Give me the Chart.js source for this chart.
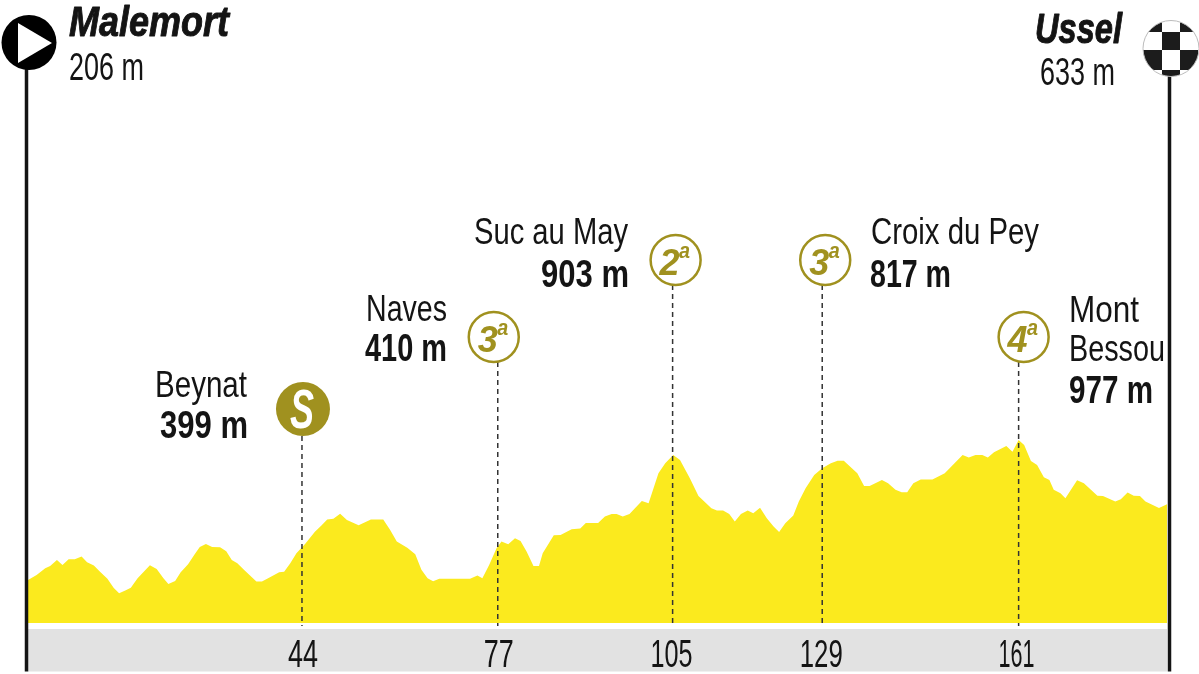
<!DOCTYPE html>
<html><head><meta charset="utf-8">
<style>html,body{margin:0;padding:0;background:#fff;overflow:hidden}canvas{display:block}</style>
<script src="https://cdn.jsdelivr.net/npm/chart.js@4"></script></head>
<body><canvas id="c" width="1199" height="674"></canvas>
<script>
const distanceKm = [0,1.4,2.8,3.6,4.7,5.6,6.6,7.6,8.7,9.6,10.7,11.7,12.9,13.9,14.8,15.8,16.7,17.8,18.8,19.8,20.9,22,22.8,23.9,24.8,26,27.1,27.9,28.9,29.9,31.2,32.2,33.1,34,35.2,37.1,38,39.3,40.8,41.6,42.6,43.6,45,46.6,47.7,48.6,49.6,50.7,51.8,53.7,55.7,57.7,58.8,59.9,
61.6,62.9,63.9,64.9,65.8,66.8,71.8,73,73.8,74.9,76.1,76.9,78,79.1,80,81,82.1,83,83.6,85.4,86.5,88.3,89.7,90.6,92.6,93.7,94.8,95.6,96.6,97.7,99.7,100.8,102.4,103.5,104.8,105.9,107.5,108.9,111,111.9,112.9,113.9,114.8,115.8,116.9,117.8,118.9,120,121.1,122,123,124.3,
125.2,126.3,127.7,129,130.4,131.5,132.5,134.7,135.8,136.7,138.7,139.7,140.9,141.9,142.8,143.8,145,146.9,148.9,151.8,152.8,153.9,155,155.9,156.9,158.9,159.9,160.9,161.8,162.9,163.9,165,165.9,166.6,167.7,168.5,170.4,171.5,173.7,174.6,176.6,177.5,178.6,179.6,180.6,181.5,183.7,185];
const elevationM = [206,234,271,284,317,289,321,321,336,304,286,252,212,163,132,147,163,215,252,287,267,215,184,200,249,293,350,389,406,389,387,365,317,299,258,197,197,221,249,252,299,354,406,474,509,541,545,574,539,509,541,541,484,419,
385,348,262,215,199,213,213,230,215,289,382,419,404,437,422,363,284,284,354,454,456,487,491,522,522,558,572,572,558,572,644,632,798,854,900,872,770,672,604,591,591,572,530,572,591,576,607,548,502,472,520,563,
641,715,789,826,854,868,868,798,728,728,761,743,706,693,693,743,763,763,798,900,885,900,900,885,915,950,918,983,955,866,844,776,761,706,687,659,759,743,674,672,641,654,691,674,672,641,606,626];
const tickLabels = ['44','77','105','129','161'];
const tickKm = [44.5,76.3,104.7,129,160.9];
const climbNames = [['Beynat'],['Naves'],['Suc au May'],['Croix du Pey'],['Mont','Bessou']];
const climbElevations = ['399 m','410 m','903 m','817 m','977 m'];
const climbBadges = ['S','3','2','3','4'];
const startName = 'Malemort', startElevation = '206 m';
const finishName = 'Ussel', finishElevation = '633 m';

const OLIVE='#a0911f', INK='#141414', YELLOW='#fbea1e', BAND='#e2e2e2';
const FONT='"Liberation Sans",sans-serif';
function txt(ctx,s,x,y,size,style,align,w,color,bold){
  ctx.font=style+' '+size+'px '+FONT; ctx.textAlign=align; ctx.textBaseline='alphabetic';
  ctx.fillStyle=color||INK; ctx.fillText(s,x,y,w);
  if(bold){ctx.strokeStyle=color||INK;ctx.lineWidth=bold;ctx.lineJoin='round';ctx.strokeText(s,x,y,w);}
}
const badgeLayout=[{y:409,r:27,dx:1},{y:337,r:25,dx:-4},{y:260,r:25,dx:3},{y:260,r:25,dx:3},{y:337,r:25,dx:5}];
const nameLayout=[
 {a:'right',x:247,lines:[[397,92]],ex:248,ey:438,ew:88},
 {a:'right',x:447,lines:[[321,81]],ex:447,ey:361,ew:82},
 {a:'right',x:628,lines:[[244,154]],ex:629,ey:287,ew:88},
 {a:'left', x:871,lines:[[244,168]],ex:870,ey:287,ew:81},
 {a:'left', x:1069,lines:[[322,70],[361,96]],ex:1069,ey:403,ew:84}];
const tickLayout=[{dx:1,w:30},{dx:1,w:30},{dx:-1,w:42},{dx:-1,w:43},{dx:-2,w:36}];

const deco={id:'deco',
 beforeDraw(ch){const c=ch.ctx;c.save();c.fillStyle=BAND;c.fillRect(ch.chartArea.left,629,ch.chartArea.width,42.5);c.restore();},
 afterDatasetsDraw(ch){
  const c=ch.ctx,xs=ch.scales.x;c.save();
  c.strokeStyle=INK;c.lineWidth=3.5;c.setLineDash([]);
  c.beginPath();c.moveTo(26.5,42);c.lineTo(26.5,671.5);c.moveTo(1169.5,48);c.lineTo(1169.5,671.5);c.stroke();
  c.fillStyle='#000';c.beginPath();c.arc(29,42.5,27.5,0,Math.PI*2);c.fill();
  c.fillStyle='#fff';c.beginPath();c.moveTo(18,23);c.lineTo(52,43);c.lineTo(18,63);c.closePath();c.fill();
  c.save();c.beginPath();c.arc(1171,48.5,28,0,Math.PI*2);c.clip();
  c.fillStyle='#fff';c.fillRect(1143,20,56,58);
  const cols=[1143,1162,1180,1198],rows=[20,32,50,70,78];
  c.fillStyle='#1c1c1c';
  for(let r=0;r<4;r++)for(let k=0;k<3;k++)if((r+k)%2===0)c.fillRect(cols[k],rows[r],cols[k+1]-cols[k],rows[r+1]-rows[r]);
  c.restore();
  c.strokeStyle='#bbb';c.lineWidth=1;c.beginPath();c.arc(1171,48.5,28,0,Math.PI*2);c.stroke();
  climbBadges.forEach((b,i)=>{
   const x=xs.getPixelForValue(tickKm[i]),L=badgeLayout[i],cx=x+L.dx;
   c.strokeStyle='#333';c.lineWidth=1.5;c.setLineDash([5,4]);
   c.beginPath();c.moveTo(x,L.y+L.r);c.lineTo(x,626);c.stroke();c.setLineDash([]);
   c.beginPath();c.arc(cx,L.y,L.r,0,Math.PI*2);
   if(b==='S'){c.fillStyle=OLIVE;c.fill();txt(c,'S',cx-1,L.y+19,56,'italic bold','center',24,'#fff');}
   else{c.strokeStyle=OLIVE;c.lineWidth=2.5;c.stroke();
    txt(c,b,cx-6,L.y+15,36,'italic bold','center',21,OLIVE);
    txt(c,'a',cx+9,L.y-2,22,'italic bold','center',11,OLIVE);}
   const N=nameLayout[i];
   climbNames[i].forEach((s,j)=>txt(c,s,N.x,N.lines[j][0],36,'normal',N.a,N.lines[j][1]));
   txt(c,climbElevations[i],N.ex,N.ey,38,'bold',N.a,N.ew);
  });
  xs.ticks.forEach((t,i)=>{const T=tickLayout[i];
   txt(c,t.label,xs.getPixelForValue(t.value)+T.dx,667,39,'normal','center',T.w);});
  txt(c,startName,69,36,43,'italic bold','left',160,INK,1);
  txt(c,startElevation,69,80,38,'normal','left',75);
  txt(c,finishName,1122,43,43,'italic bold','right',87,INK,1);
  txt(c,finishElevation,1115,85,38,'normal','right',75);
  c.restore();
 }};

new Chart(document.getElementById('c'),{
 type:'line',
 data:{datasets:[{label:'Altitude',
   data:distanceKm.map((k,i)=>({x:k,y:elevationM[i]})),
   borderWidth:0,borderColor:YELLOW,backgroundColor:YELLOW,fill:'start',pointRadius:0,tension:0}]},
 plugins:[deco],
 options:{responsive:false,animation:false,devicePixelRatio:1,
  layout:{padding:{left:28,right:32,top:0,bottom:0}},
  plugins:{legend:{display:false},tooltip:{enabled:false},title:{display:false}},
  scales:{
   y:{display:false,min:-33,max:3425},
   x:{type:'linear',min:0,max:185,
    afterFit(s){s.height=51;},
    afterBuildTicks(s){s.ticks=tickKm.map(v=>({value:v}));},
    grid:{display:false,drawTicks:false},border:{display:false},
    ticks:{display:false,autoSkip:false,maxRotation:0,
     callback(v){const i=tickKm.indexOf(v);return i<0?'':tickLabels[i];}}}
  }}
});
</script></body></html>
